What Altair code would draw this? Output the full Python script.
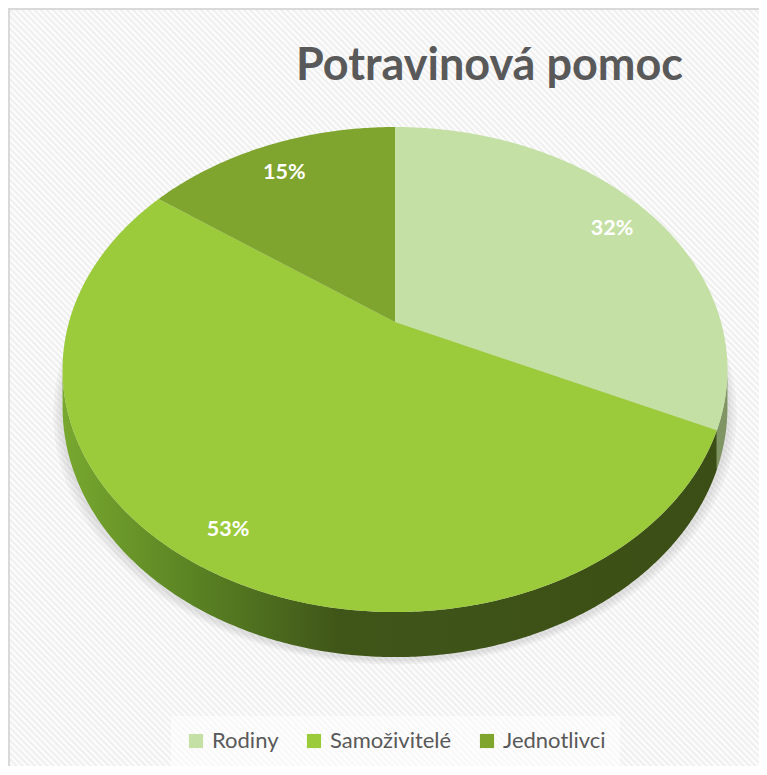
import math
import pandas as pd
import altair as alt

# ---- data ----
categories = ["Rodiny", "Samoživitelé", "Jednotlivci"]
values = [32, 53, 15]
slice_colors = ["#c5e0a5", "#9bcb3b", "#7fa52e"]
title_text = "Potravinová pomoc"

# ---- layout / style constants (3-D perspective pie) ----
W, H = 751, 758
CX, CY = 387.0, 314.0      # projected pie centre (chart px)
FX, FY = 326.0, 233.2      # horizontal / vertical projected radius factors
U = 0.196                  # perspective strength
DEPTH = 36.2               # pie thickness
LABEL_R = 0.86             # label radius fraction
STEP = 0.5


def proj(theta_deg, r=1.0):
    t = math.radians(theta_deg)
    s = 1 + U * r * math.cos(t)
    return CX + FX * r * math.sin(t) / s, CY - FY * r * math.cos(t) / s, s


def arc(a, b):
    n = max(2, int(math.ceil((b - a) / STEP)) + 1)
    return [a + (b - a) * k / (n - 1) for k in range(n)]


total = sum(values)
starts, ends = [], []
acc = 0.0
for v in values:
    starts.append(acc / total * 360)
    acc += v
    ends.append(acc / total * 360)

# top faces
top_rows = []
for cat, a, b in zip(categories, starts, ends):
    top_rows.append({"cat": cat, "i": 0, "x": CX, "y": CY})
    for k, th in enumerate(arc(a, b)):
        x, y, _ = proj(th)
        top_rows.append({"cat": cat, "i": k + 1, "x": x, "y": y})
top_df = pd.DataFrame(top_rows)

# visible side walls
TH_R = math.degrees(math.acos(-U))
TH_L = 360 - TH_R
side_rows = []
for cat, a, b in zip(categories, starts, ends):
    lo, hi = max(a, TH_R), min(b, TH_L)
    if lo >= hi:
        continue
    pts = arc(lo, hi)
    k = 0
    for th in pts:
        x, y, s = proj(th)
        side_rows.append({"cat": cat, "i": k, "x": x, "y": y}); k += 1
    for th in reversed(pts):
        x, y, s = proj(th)
        side_rows.append({"cat": cat, "i": k, "x": x, "y": y + DEPTH / s}); k += 1
side_df = pd.DataFrame(side_rows)

# soft shadow below the pie
shadow_rows = []
for g, grow in enumerate([9, 6, 3]):
    for k, th in enumerate(arc(0, 360)):
        x, y, s = proj(th)
        dx = (x - CX) * grow / 330
        shadow_rows.append({"g": g, "i": k, "x": x + dx, "y": y + DEPTH / s + grow * 0.6 + 2})
shadow_df = pd.DataFrame(shadow_rows)

# labels
lab_rows = []
for cat, v, a, b in zip(categories, values, starts, ends):
    x, y, _ = proj((a + b) / 2, LABEL_R)
    lab_rows.append({"cat": cat, "label": f"{round(v / total * 100)}%", "x": x, "y": y})
lab_df = pd.DataFrame(lab_rows)

xs = alt.Scale(domain=[0, W], range=[0, W], nice=False, zero=False)
ys = alt.Scale(domain=[0, H], range=[0, H], nice=False, zero=False)
X = alt.X("x:Q", scale=xs, axis=None)
Y = alt.Y("y:Q", scale=ys, axis=None)

# hatched background
N = 250
stops = []
for k in range(N):
    stops.append(alt.GradientStop(color="#ededed", offset=k / N))
    stops.append(alt.GradientStop(color="#ffffff", offset=(k + 0.5) / N))
stops.append(alt.GradientStop(color="#ededed", offset=1.0))
bg = alt.Chart(pd.DataFrame({"bg": [0]})).mark_rect(
    fill=alt.LinearGradient(gradient="linear", stops=stops, x1=0, y1=1, x2=1, y2=0),
    stroke="#d9d9d9", strokeWidth=2,
).encode(x=alt.value(1), x2=alt.value(W + 20), y=alt.value(1), y2=alt.value(H + 30))

shadow = alt.Chart(shadow_df).mark_line(strokeWidth=0, fill="#808080", fillOpacity=0.07).encode(
    x=X, y=Y, order="i:Q", detail="g:N")

side_grad = alt.LinearGradient(
    gradient="linear", x1=0, y1=0, x2=1, y2=0,
    stops=[alt.GradientStop(color="#78a82f", offset=0),
           alt.GradientStop(color="#5a8323", offset=0.2),
           alt.GradientStop(color="#405619", offset=0.42),
           alt.GradientStop(color="#3b4e15", offset=1)])
side_main = alt.Chart(side_df).transform_filter(alt.datum.cat == categories[1]).mark_line(
    strokeWidth=0, fill=side_grad).encode(x=X, y=Y, order="i:Q", detail="cat:N")
side_other = alt.Chart(side_df).transform_filter(alt.datum.cat != categories[1]).mark_line(
    strokeWidth=0, fill="#7f9563").encode(x=X, y=Y, order="i:Q", detail="cat:N")

top = alt.Chart(top_df).mark_line(strokeWidth=0).encode(
    x=X, y=Y, order="i:Q",
    fill=alt.Fill("cat:N", scale=alt.Scale(domain=categories, range=slice_colors),
                  legend=alt.Legend(
                      title=None, orient="none", direction="horizontal",
                      legendX=163, legendY=708, padding=14,
                      fillColor="rgba(255,255,255,0.55)",
                      symbolType="square", symbolSize=200, symbolStrokeWidth=0,
                      labelFont="Lato", labelFontSize=22, labelColor="#595959",
                      labelOffset=5, columnPadding=24)),
)

labels = alt.Chart(lab_df).mark_text(
    font="Lato", fontSize=21.5, fontWeight="bold", color="white", baseline="middle",
    align="center", dy=6
).encode(x=X, y=Y, text="label:N")

chart = alt.layer(bg, shadow, side_main, side_other, top, labels).properties(
    width=W, height=H,
    autosize=alt.AutoSizeParams(type="none"),
    padding=0,
    title=alt.TitleParams(title_text, orient="top", anchor="middle", offset=0,
                          baseline="alphabetic", dy=117, dx=106,
                          font="Lato", fontSize=45, fontWeight="bold", color="#595959"),
).configure_view(stroke=None)

chart.save("out.html", embed_options={"renderer": "svg", "actions": False})
